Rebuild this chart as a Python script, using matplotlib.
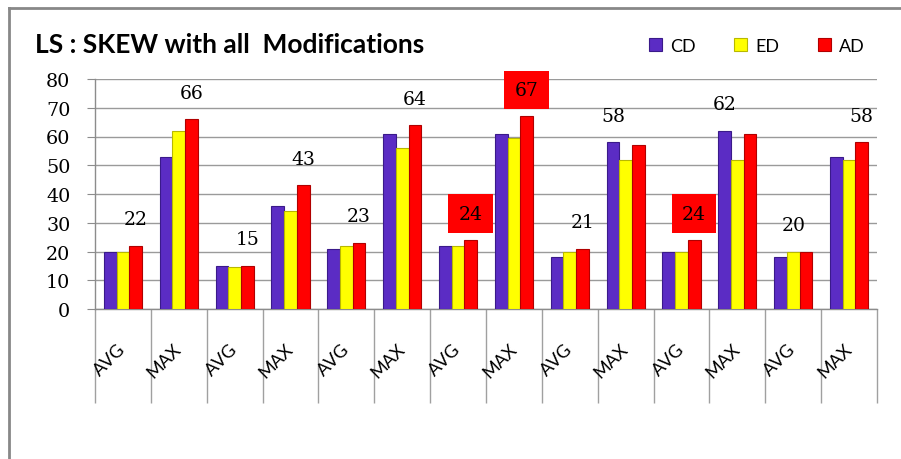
import numpy as np
import matplotlib
matplotlib.use("Agg")
import matplotlib.pyplot as plt
from matplotlib.patches import Rectangle
from matplotlib.lines import Line2D
import matplotlib.transforms as mtransforms

# values
categories = ["AVG", "MAX"] * 7
cd_values = [20, 53, 15, 36, 21, 61, 22, 61, 18, 58, 20, 62, 18, 53]
ed_values = [20, 62, 14.5, 34, 22, 56, 22, 59.5, 20, 52, 20, 52, 20, 52]
ad_values = [22, 66, 15, 43, 23, 64, 24, 67, 21, 57, 24, 61, 20, 58]
series_names = ["CD", "ED", "AD"]
# which series carries the group's top value label
label_series = [2, 2, 2, 2, 2, 2, 2, 2, 2, 0, 2, 0, 1, 2]
boxed_labels = [6, 7, 10]  # labels drawn on a red box
y_ticks = [0, 10, 20, 30, 40, 50, 60, 70, 80]

colors = ["#5B2CC4", "#FFFF00", "#FF0000"]
edges = ["#3A1A8A", "#B8B800", "#B00000"]

W, H = 901, 460
fig = plt.figure(figsize=(W / 100, H / 100), dpi=100)
ax = fig.add_axes([95 / W, 1 - 310 / H, (877 - 95) / W, 230 / H])

x = np.arange(len(categories))
bw = 0.227
all_vals = [cd_values, ed_values, ad_values]
for k, vals in enumerate(all_vals):
    ax.bar(x + (k - 1) * bw, vals, width=bw, color=colors[k],
           edgecolor=edges[k], linewidth=0.8, zorder=3, label=series_names[k])

for i, s in enumerate(label_series):
    v = all_vals[s][i]
    box = None
    if i in boxed_labels:
        box = dict(boxstyle="square,pad=0.55", facecolor="#FF0000", edgecolor="none")
    ax.annotate(f"{v:g}", (x[i] + (s - 1) * bw, v), xytext=(0, 19), textcoords="offset points",
                ha="center", va="center", fontsize=13.5, family="DejaVu Serif",
                color="black", bbox=box, zorder=5)

ax.set_xlim(-0.5, len(categories) - 0.5)
ax.set_ylim(0, 80)
ax.set_yticks(y_ticks)
ax.yaxis.grid(True, color="#9A9A9A", linewidth=1.0, zorder=0)
ax.set_axisbelow(True)
for side in ["top", "right"]:
    ax.spines[side].set_visible(False)
for side in ["left", "bottom"]:
    ax.spines[side].set_color("#8C8C8C")
    ax.spines[side].set_linewidth(1.0)

ax.tick_params(axis="y", length=5.8, color="#8C8C8C", labelsize=13.8, pad=12)
for lab in ax.get_yticklabels():
    lab.set_family("DejaVu Serif")

# category separators running down through the label area
ax.set_xticks(np.arange(-0.5, len(categories) + 0.5, 1.0))
ax.set_xticklabels([])
ax.tick_params(axis="x", length=68, color="#A0A0A0", width=1.0, direction="out")

offset = mtransforms.ScaledTranslation(0, -37 / 100, fig.dpi_scale_trans)
trans = ax.get_xaxis_transform() + offset
for i, name in enumerate(categories):
    ax.text(x[i], 0, name, transform=trans, rotation=45, rotation_mode="anchor",
            ha="right", va="center", fontsize=13, family="Lato")

fig.text(35 / W, 1 - 53 / H, "LS : SKEW with all  Modifications", fontsize=19,
         fontweight="bold", family="Lato", va="baseline", ha="left")

# legend drawn by hand to match the spacing of the original
legend_x = [649, 734, 818]
for k, lx in enumerate(legend_x):
    fig.add_artist(Rectangle((lx / W, 1 - 52 / H), 13 / W, 13 / H, transform=fig.transFigure,
                             facecolor=colors[k], edgecolor=edges[k], linewidth=0.8))
    fig.text((lx + 21) / W, 1 - 52 / H, series_names[k], fontsize=13, family="Lato",
             va="baseline", ha="left")

# outer chart border (left and top)
fig.add_artist(Line2D([9 / W, 9 / W], [0, 1 - 9 / H], color="#888888", linewidth=2))
fig.add_artist(Line2D([9 / W, 1], [1 - 9 / H, 1 - 9 / H], color="#888888", linewidth=2))

fig.savefig("out.png", dpi=100)
